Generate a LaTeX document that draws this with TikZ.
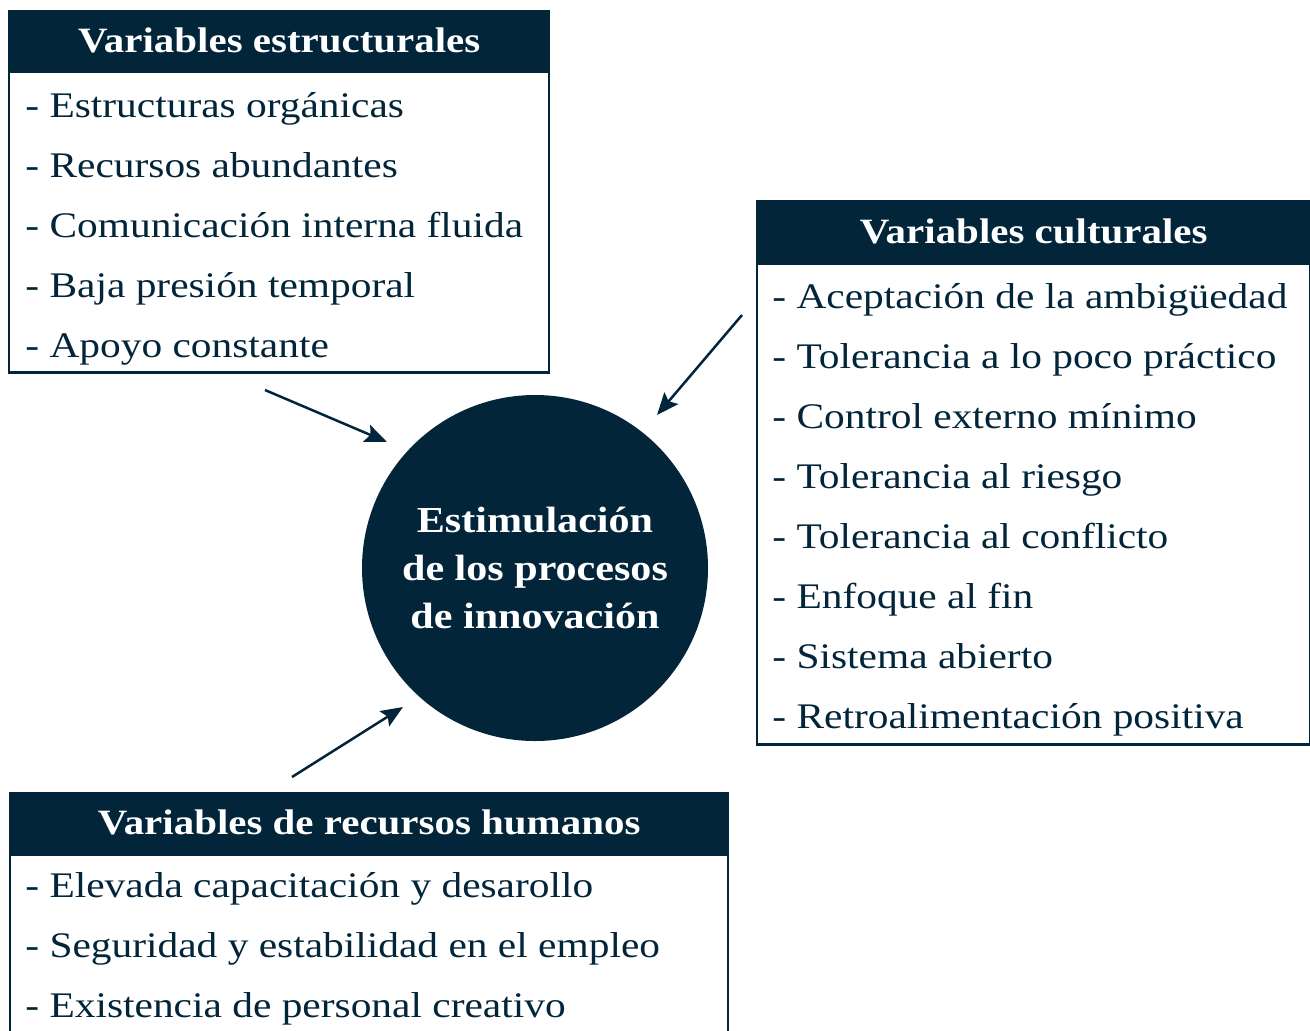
\documentclass[tikz,border=0pt]{standalone}
\usepackage{fontspec}
\setmainfont{Liberation Serif}[FakeStretch=1.15]
\usetikzlibrary{arrows.meta}
\definecolor{navy}{RGB}{2,37,58}
\tikzset{
  head/.style={fill=navy, draw=navy, line width=1.2pt, text=white, inner sep=0pt,
    font=\bfseries\fontsize{17.8}{20}\selectfont, anchor=north west, minimum height=29pt},
  body/.style={draw=navy, line width=1.2pt, inner sep=0pt, anchor=north west},
  item/.style={text=navy, inner sep=0pt, anchor=base west, font=\fontsize{18}{20}\selectfont},
  arr/.style={draw=navy, line width=1.25pt, -{Stealth[length=11pt,width=9pt,inset=2pt]}}
}
\begin{document}
\begin{tikzpicture}[x=0.5pt,y=-0.5pt]
\useasboundingbox (0,0) rectangle (1310,1030);
% variables estructurales
\node[head, minimum width=270pt] (h1) at (8,10) {Variables estructurales};
\node[body, minimum width=270pt, minimum height=150.5pt] (b1) at (h1.south west) {};
\foreach \t [count=\i] in {Estructuras orgánicas, Recursos abundantes, Comunicación interna fluida, Baja presión temporal, Apoyo constante}
  \node[item] (e\i) at (25, 57+60*\i) {- \t};
% variables culturales
\node[head, minimum width=276.5pt, minimum height=30pt] (h2) at (756,200) {Variables culturales};
\node[body, minimum width=276.5pt, minimum height=240.5pt] (b2) at (h2.south west) {};
\foreach \t [count=\i] in {Aceptación de la ambigüedad, Tolerancia a lo poco práctico, Control externo mínimo, Tolerancia al riesgo, Tolerancia al conflicto, Enfoque al fin, Sistema abierto, Retroalimentación positiva}
  \node[item] (c\i) at (772, 248+60*\i) {- \t};
% variables de recursos humanos
\node[head, minimum width=359pt, minimum height=29.5pt] (h3) at (9,792) {Variables de recursos humanos};
\node[body, minimum width=359pt, minimum height=110pt] (b3) at (h3.south west) {};
\foreach \t [count=\i] in {Elevada capacitación y desarollo, Seguridad y estabilidad en el empleo, Existencia de personal creativo}
  \node[item] (r\i) at (25, 837+60*\i) {- \t};
% centro
\node[circle, fill=navy, minimum size=173pt, inner sep=0pt, text=white, align=center,
  font=\bfseries\fontsize{18.3}{24}\selectfont] (circ) at (535,568) {Estimulación\\de los procesos\\de innovación};
\coordinate (s1) at (265,390);
\coordinate (t1) at (387,442);
\coordinate (s2) at (742,315);
\coordinate (t2) at (657,415);
\coordinate (s3) at (292,777);
\coordinate (t3) at (403,707);
\draw[arr] (s1) -- (t1);
\draw[arr] (s2) -- (t2);
\draw[arr] (s3) -- (t3);
\end{tikzpicture}
\end{document}
